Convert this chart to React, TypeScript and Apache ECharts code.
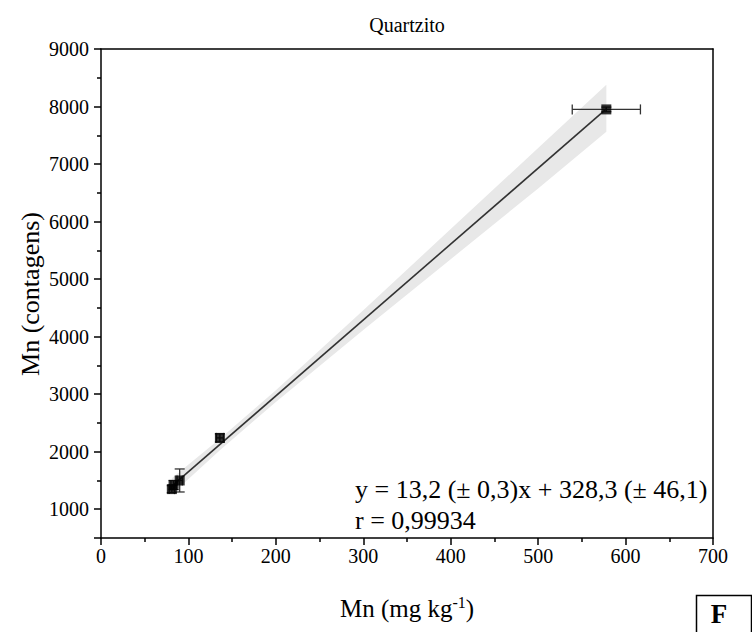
import React, { useEffect, useRef } from "react";
import * as echarts from "echarts";

const ptsX = [81, 83, 90, 136, 578];
const ptsY = [1350, 1420, 1500, 2240, 7950];
const yErr = [60, 80, 200, 70, 40];
const xErr = [3, 3, 3, 4, 39];

const fitX = [81, 578];
const fitY = [1400, 7958];

const bandX = [81, 136, 200, 300, 400, 500, 578];
const bandUpper = [1540, 2224, 3070, 4460, 5870, 7280, 8380];
const bandLower = [1260, 2024, 2866, 4116, 5346, 6576, 7560];

const xTicks = [0, 100, 200, 300, 400, 500, 600, 700];
const titleText = "Quartzito";
const eqText = "y = 13,2 (± 0,3)x + 328,3 (± 46,1)";
const rText = "r = 0,99934";

const FONT = "Liberation Serif";

export default function App() {
  const ref = useRef<HTMLDivElement>(null);
  useEffect(() => {
    if (!ref.current) return;
    const chart = echarts.init(ref.current, null, { renderer: "svg" });
    const points = ptsX.map((x, i) => [x, ptsY[i], xErr[i], yErr[i]]);
    const option: any = {
      animation: false,
      backgroundColor: "#fff",
      textStyle: { fontFamily: FONT },
      grid: { left: 101, right: 39, top: 49, bottom: 94, show: false },
      xAxis: [
        {
          type: "value",
          min: xTicks[0],
          max: xTicks[xTicks.length - 1],
          interval: 100,
          axisLine: { show: true, onZero: false, lineStyle: { color: "#000", width: 1.5 } },
          axisTick: { show: true, length: 7, lineStyle: { color: "#000", width: 1.5 } },
          minorTick: { show: true, splitNumber: 2, length: 4, lineStyle: { color: "#000", width: 1.5 } },
          splitLine: { show: false },
          axisLabel: { color: "#000", fontFamily: FONT, fontSize: 20, margin: 8 },
        },
        {
          type: "value",
          position: "top",
          min: 0,
          max: 700,
          axisLine: { show: true, onZero: false, lineStyle: { color: "#000", width: 1.5 } },
          axisTick: { show: false },
          axisLabel: { show: false },
          splitLine: { show: false },
        },
      ],
      yAxis: [
        {
          type: "value",
          min: 500,
          max: 9000,
          splitNumber: 8,
          axisLine: { show: true, onZero: false, lineStyle: { color: "#000", width: 1.5 } },
          axisTick: { show: true, length: 7, lineStyle: { color: "#000", width: 1.5 } },
          minorTick: { show: true, splitNumber: 2, length: 4, lineStyle: { color: "#000", width: 1.5 } },
          splitLine: { show: false },
          axisLabel: {
            color: "#000",
            fontFamily: FONT,
            fontSize: 20,
            margin: 12,
            showMinLabel: false,
            formatter: (v: number) => (v % 1000 === 0 ? String(v) : ""),
          },
        },
        {
          type: "value",
          position: "right",
          min: 500,
          max: 9000,
          axisLine: { show: true, onZero: false, lineStyle: { color: "#000", width: 1.5 } },
          axisTick: { show: false },
          axisLabel: { show: false },
          splitLine: { show: false },
        },
      ],
      series: [
        {
          type: "custom",
          name: "band",
          silent: true,
          z: 1,
          data: [[bandX[0], bandLower[0]]],
          renderItem: (params: any, api: any) => {
            const pts: number[][] = [];
            for (let i = 0; i < bandX.length; i++) pts.push(api.coord([bandX[i], bandUpper[i]]));
            for (let i = bandX.length - 1; i >= 0; i--) pts.push(api.coord([bandX[i], bandLower[i]]));
            return {
              type: "polygon",
              shape: { points: pts },
              style: { fill: "#e8e8e8", stroke: "none" },
            };
          },
        },
        {
          type: "line",
          name: "fit",
          z: 2,
          symbol: "none",
          data: fitX.map((x, i) => [x, fitY[i]]),
          lineStyle: { color: "#333", width: 1.6 },
        },
        {
          type: "custom",
          name: "errors",
          z: 3,
          data: points,
          renderItem: (params: any, api: any) => {
            const x = api.value(0);
            const y = api.value(1);
            const ex = api.value(2);
            const ey = api.value(3);
            const t = api.coord([x, y + ey]);
            const b = api.coord([x, y - ey]);
            const l = api.coord([x - ex, y]);
            const r = api.coord([x + ex, y]);
            const cap = 5;
            const st = { stroke: "#333", lineWidth: 1.3 };
            return {
              type: "group",
              children: [
                { type: "line", shape: { x1: t[0], y1: t[1], x2: b[0], y2: b[1] }, style: st },
                { type: "line", shape: { x1: t[0] - cap, y1: t[1], x2: t[0] + cap, y2: t[1] }, style: st },
                { type: "line", shape: { x1: b[0] - cap, y1: b[1], x2: b[0] + cap, y2: b[1] }, style: st },
                { type: "line", shape: { x1: l[0], y1: l[1], x2: r[0], y2: r[1] }, style: st },
                { type: "line", shape: { x1: l[0], y1: l[1] - cap, x2: l[0], y2: l[1] + cap }, style: st },
                { type: "line", shape: { x1: r[0], y1: r[1] - cap, x2: r[0], y2: r[1] + cap }, style: st },
              ],
            };
          },
        },
        {
          type: "scatter",
          name: "points",
          z: 4,
          symbol: "rect",
          symbolSize: 10,
          itemStyle: { color: "#000" },
          data: ptsX.map((x, i) => [x, ptsY[i]]),
        },
      ],
      graphic: [
        {
          type: "text",
          x: 407,
          y: 25,
          style: { text: titleText, fontFamily: FONT, fontSize: 20, fill: "#000", textAlign: "center", textVerticalAlign: "middle" },
        },
        {
          type: "text",
          x: 30,
          y: 294,
          rotation: Math.PI / 2,
          style: { text: "Mn (contagens)", fontFamily: FONT, fontSize: 26, fill: "#000", textAlign: "center", textVerticalAlign: "middle" },
        },
        {
          type: "text",
          x: 407,
          y: 608,
          style: {
            text: "{a|Mn (mg kg}{s|-1}{a|)}",
            textAlign: "center",
            textVerticalAlign: "middle",
            rich: {
              a: { fontFamily: FONT, fontSize: 25, fill: "#000" },
              s: { fontFamily: FONT, fontSize: 16, fill: "#000", verticalAlign: "top", padding: [0, 0, 12, 0] },
            },
          },
        },
        {
          type: "text",
          x: 355,
          y: 489,
          style: { text: eqText, fontFamily: FONT, fontSize: 26, fill: "#000", textAlign: "left", textVerticalAlign: "middle" },
        },
        {
          type: "text",
          x: 355,
          y: 520,
          style: { text: rText, fontFamily: FONT, fontSize: 26, fill: "#000", textAlign: "left", textVerticalAlign: "middle" },
        },
        {
          type: "rect",
          shape: { x: 696.5, y: 595.5, width: 55, height: 40 },
          style: { fill: "#fff", stroke: "#000", lineWidth: 1.5 },
        },
        {
          type: "text",
          x: 719,
          y: 614,
          style: { text: "F", fontFamily: FONT, fontSize: 27, fontWeight: "bold", fill: "#000", textAlign: "center", textVerticalAlign: "middle" },
        },
      ],
    };
    chart.setOption(option);
    return () => chart.dispose();
  }, []);
  return <div ref={ref} style={{ width: 752, height: 632, position: "absolute", left: 0, top: 0 }} />;
}
